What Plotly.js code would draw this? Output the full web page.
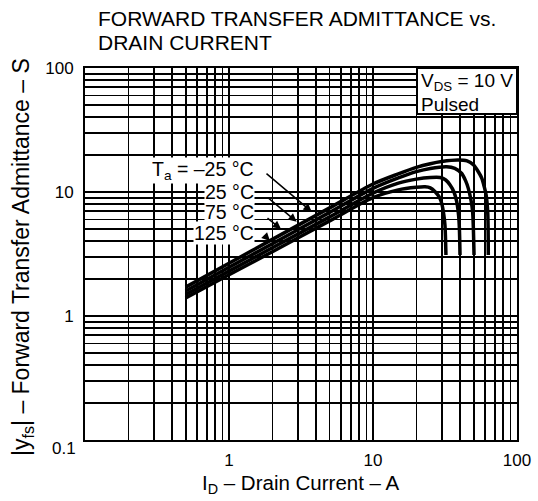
<!DOCTYPE html>
<html>
<head>
<meta charset="utf-8">
<script src="https://cdn.plot.ly/plotly-3.0.1.min.js"></script>
<style>html,body{margin:0;padding:0;background:#fff;}#chart{width:538px;height:501px;}</style>
</head>
<body>
<div id="chart"></div>
<script>
// Drain current (A) and |yfs| (S), per ambient temperature
const seriesNames = ["Ta = -25 °C", "Ta = 25 °C", "Ta = 75 °C", "Ta = 125 °C"];
const id_m25 = [0.5, 1, 2, 5, 10, 15, 20, 25, 30, 39, 45, 50, 54, 57, 59, 61, 62.6, 63.2];
const yfs_m25 = [1.71, 2.66, 4.15, 7.45, 11.6, 14.0, 15.8, 16.9, 17.6, 18.1, 17.8, 16.5, 14.5, 12.9, 11.2, 9.5, 6.9, 3.1];
const id_25 = [0.5, 1, 2, 5, 10, 15, 20, 25, 32.5, 37, 41.3, 44, 45.9, 48, 49.2, 50.3];
const yfs_25 = [1.59, 2.47, 3.83, 6.85, 10.7, 13.0, 14.6, 15.5, 16.0, 15.5, 14.1, 12.3, 10.7, 8.5, 6.9, 3.1];
const id_75 = [0.5, 1, 2, 5, 10, 15, 20, 25, 29.2, 32, 34.3, 36.5, 38.1, 39.3, 39.8, 40.2];
const yfs_75 = [1.49, 2.3, 3.55, 6.3, 9.8, 11.8, 12.7, 13.1, 13.1, 12.5, 11.4, 10.0, 8.4, 6.5, 5.1, 3.1];
const id_125 = [0.5, 1, 2, 5, 10, 15, 20, 23, 25, 27, 29, 30, 31, 31.6, 32.1];
const yfs_125 = [1.40, 2.15, 3.3, 5.85, 9.0, 10.4, 10.9, 11.0, 10.8, 10.05, 9.0, 8.1, 6.6, 5.4, 3.1];

const xMajorLabels = ["", "1", "10", "100"];
const yMajorLabels = ["", "1", "10", "100"];
const decades = [0.1, 1, 10, 100];

// log grid: every 1..9 multiple of each decade
function gridVals() {
  const v = [];
  for (let d = 0; d < 3; d++) for (let m = 1; m <= 9; m++) v.push(+(m * decades[d]).toPrecision(3));
  v.push(100);
  return v;
}
function gridText(labels) {
  return gridVals().map(v => { const i = decades.indexOf(v); return i >= 0 ? labels[i] : ""; });
}

const FONT = "Liberation Sans, Arial, Helvetica, sans-serif";
const xs = [id_m25, id_25, id_75, id_125];
const ys = [yfs_m25, yfs_25, yfs_75, yfs_125];
const traces = xs.map((x, i) => ({
  x: x, y: ys[i], name: seriesNames[i], type: "scatter", mode: "lines",
  line: {color: "#000", width: 3.5, shape: "spline", smoothing: 0.8},
  hoverinfo: "skip"
}));

const axisCommon = {
  type: "log", range: [-1, 2], showline: true, mirror: true, linecolor: "#000", linewidth: 2,
  showgrid: true, gridcolor: "#000", gridwidth: 1.7, zeroline: false, ticks: "",
  tickfont: {family: FONT, size: 17, color: "#000"}, tickmode: "array", fixedrange: true
};

function P(px) { return (px - 85) / 432; }
function Q(py) { return (440 - py) / 372; }

const annotations = [
  {text: "FORWARD TRANSFER ADMITTANCE vs.", x: P(97), y: Q(18.5), xanchor: "left", yanchor: "middle"},
  {text: "DRAIN CURRENT", x: P(97), y: Q(42.5), xanchor: "left", yanchor: "middle"},
].map(a => Object.assign(a, {xref: "paper", yref: "paper", showarrow: false, borderpad: 0,
  font: {family: FONT, size: 21, color: "#000"}}));

const textAnn = [
  {text: "T<sub>a</sub> = –25 °C", y: Q(170)},
  {text: "25 °C", y: Q(192)},
  {text: "75 °C", y: Q(212)},
  {text: "125 °C", y: Q(233)}
].map(a => Object.assign(a, {xref: "paper", yref: "paper", x: P(255), xanchor: "right", yanchor: "middle",
  showarrow: false, bgcolor: "#fff", borderpad: 0, font: {family: FONT, size: 19.5, color: "#000"}}));

const arrowAnn = [
  {x: P(311.7), y: Q(211.7), ax: -46.7, ay: -39.4},
  {x: P(296.7), y: Q(221.7), ax: -30, ay: -25},
  {x: P(281), y: Q(229), ax: -15, ay: -12},
  {x: P(270), y: Q(241), ax: -7, ay: -7}
].map(a => Object.assign(a, {xref: "paper", yref: "paper", text: " ", showarrow: true, arrowhead: 2,
  arrowsize: 1.1, arrowwidth: 1.5, arrowcolor: "#000", font: {size: 1}}));

const otherAnn = [
  {text: "V<sub>DS</sub> = 10 V", x: P(419), y: Q(82), xanchor: "left", yanchor: "middle", font: {family: FONT, size: 19, color: "#000"}},
  {text: "Pulsed", x: P(419), y: Q(104), xanchor: "left", yanchor: "middle", font: {family: FONT, size: 19, color: "#000"}},
  {text: "0.1", x: P(78), y: Q(448), xanchor: "right", yanchor: "middle", font: {family: FONT, size: 17, color: "#000"}},
  {text: "I<sub>D</sub> – Drain Current – A", x: 0.5, y: Q(484), xanchor: "center", yanchor: "middle", font: {family: FONT, size: 20.5, color: "#000"}},
  {text: "|y<sub>fs</sub>| – Forward Transfer Admittance – S", x: P(22), y: Q(257), xanchor: "center", yanchor: "middle", textangle: -90, font: {family: FONT, size: 23, color: "#000"}}
].map(a => Object.assign(a, {xref: "paper", yref: "paper", showarrow: false}));

const layout = {
  width: 538, height: 501,
  margin: {l: 85, r: 21, t: 68, b: 61, pad: 0},
  paper_bgcolor: "#fff", plot_bgcolor: "#fff",
  showlegend: false,
  xaxis: Object.assign({}, axisCommon, {tickvals: gridVals(), ticktext: gridText(xMajorLabels), ticklabelstandoff: 4}),
  yaxis: Object.assign({}, axisCommon, {tickvals: gridVals(), ticktext: gridText(yMajorLabels), ticklabelstandoff: 6}),
  shapes: [{type: "rect", xref: "paper", yref: "paper", x0: P(417), x1: 1, y0: Q(114), y1: 1,
    fillcolor: "#fff", line: {color: "#000", width: 2}, layer: "above"}],
  annotations: annotations.concat(textAnn, arrowAnn, otherAnn)
};

Plotly.newPlot("chart", traces, layout, {staticPlot: true, displayModeBar: false});
</script>
</body>
</html>
